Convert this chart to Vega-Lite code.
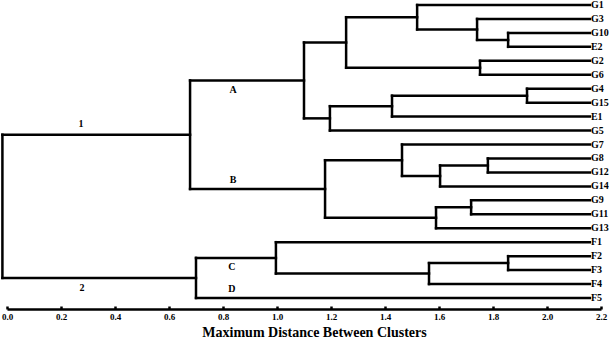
{
  "$schema": "https://vega.github.io/schema/vega-lite/v6.json",
  "width": 594,
  "height": 307,
  "autosize": {"type": "none"},
  "padding": {"left": 7, "right": 8, "top": 2, "bottom": 30},
  "background": "white",
  "config": {"view": {"stroke": null}},
  "datasets": {
    "segments": [
      {"x": 1.856, "x2": 1.856, "y": 2, "y2": 3},
      {"x": 1.741, "x2": 1.741, "y": 1, "y2": 2.5},
      {"x": 1.519, "x2": 1.519, "y": 0, "y2": 1.75},
      {"x": 1.752, "x2": 1.752, "y": 4, "y2": 5},
      {"x": 1.256, "x2": 1.256, "y": 0.875, "y2": 4.5},
      {"x": 1.926, "x2": 1.926, "y": 6, "y2": 7},
      {"x": 1.426, "x2": 1.426, "y": 6.5, "y2": 8},
      {"x": 1.196, "x2": 1.196, "y": 7.25, "y2": 9},
      {"x": 1.1, "x2": 1.1, "y": 2.6875, "y2": 8.125},
      {"x": 1.781, "x2": 1.781, "y": 11, "y2": 12},
      {"x": 1.604, "x2": 1.604, "y": 11.5, "y2": 13},
      {"x": 1.463, "x2": 1.463, "y": 10, "y2": 12.25},
      {"x": 1.719, "x2": 1.719, "y": 14, "y2": 15},
      {"x": 1.589, "x2": 1.589, "y": 14.5, "y2": 16},
      {"x": 1.178, "x2": 1.178, "y": 11.125, "y2": 15.25},
      {"x": 0.678, "x2": 0.678, "y": 5.406, "y2": 13.1875},
      {"x": 1.856, "x2": 1.856, "y": 18, "y2": 19},
      {"x": 1.563, "x2": 1.563, "y": 18.5, "y2": 20},
      {"x": 0.996, "x2": 0.996, "y": 17, "y2": 19.25},
      {"x": 0.7, "x2": 0.7, "y": 18.125, "y2": 21},
      {"x": -0.017, "x2": -0.017, "y": 9.297, "y2": 19.5625},
      {"x": 2.159, "x2": 1.519, "y": 0, "y2": 0},
      {"x": 2.159, "x2": 1.741, "y": 1, "y2": 1},
      {"x": 2.159, "x2": 1.856, "y": 2, "y2": 2},
      {"x": 2.159, "x2": 1.856, "y": 3, "y2": 3},
      {"x": 2.159, "x2": 1.752, "y": 4, "y2": 4},
      {"x": 2.159, "x2": 1.752, "y": 5, "y2": 5},
      {"x": 2.159, "x2": 1.926, "y": 6, "y2": 6},
      {"x": 2.159, "x2": 1.926, "y": 7, "y2": 7},
      {"x": 2.159, "x2": 1.426, "y": 8, "y2": 8},
      {"x": 2.159, "x2": 1.196, "y": 9, "y2": 9},
      {"x": 2.159, "x2": 1.463, "y": 10, "y2": 10},
      {"x": 2.159, "x2": 1.781, "y": 11, "y2": 11},
      {"x": 2.159, "x2": 1.781, "y": 12, "y2": 12},
      {"x": 2.159, "x2": 1.604, "y": 13, "y2": 13},
      {"x": 2.159, "x2": 1.719, "y": 14, "y2": 14},
      {"x": 2.159, "x2": 1.719, "y": 15, "y2": 15},
      {"x": 2.159, "x2": 1.589, "y": 16, "y2": 16},
      {"x": 2.159, "x2": 0.996, "y": 17, "y2": 17},
      {"x": 2.159, "x2": 1.856, "y": 18, "y2": 18},
      {"x": 2.159, "x2": 1.856, "y": 19, "y2": 19},
      {"x": 2.159, "x2": 1.563, "y": 20, "y2": 20},
      {"x": 2.159, "x2": 0.7, "y": 21, "y2": 21},
      {"x": 1.856, "x2": 1.741, "y": 2.5, "y2": 2.5},
      {"x": 1.741, "x2": 1.519, "y": 1.75, "y2": 1.75},
      {"x": 1.519, "x2": 1.256, "y": 0.875, "y2": 0.875},
      {"x": 1.752, "x2": 1.256, "y": 4.5, "y2": 4.5},
      {"x": 1.256, "x2": 1.1, "y": 2.6875, "y2": 2.6875},
      {"x": 1.926, "x2": 1.426, "y": 6.5, "y2": 6.5},
      {"x": 1.426, "x2": 1.196, "y": 7.25, "y2": 7.25},
      {"x": 1.196, "x2": 1.1, "y": 8.125, "y2": 8.125},
      {"x": 1.1, "x2": 0.678, "y": 5.406, "y2": 5.406},
      {"x": 1.781, "x2": 1.604, "y": 11.5, "y2": 11.5},
      {"x": 1.604, "x2": 1.463, "y": 12.25, "y2": 12.25},
      {"x": 1.463, "x2": 1.178, "y": 11.125, "y2": 11.125},
      {"x": 1.719, "x2": 1.589, "y": 14.5, "y2": 14.5},
      {"x": 1.589, "x2": 1.178, "y": 15.25, "y2": 15.25},
      {"x": 1.178, "x2": 0.678, "y": 13.1875, "y2": 13.1875},
      {"x": 0.678, "x2": -0.017, "y": 9.297, "y2": 9.297},
      {"x": 1.856, "x2": 1.563, "y": 18.5, "y2": 18.5},
      {"x": 1.563, "x2": 0.996, "y": 19.25, "y2": 19.25},
      {"x": 0.996, "x2": 0.7, "y": 18.125, "y2": 18.125},
      {"x": 0.7, "x2": -0.017, "y": 19.5625, "y2": 19.5625}
    ],
    "leaves": [
      {"leaf": "G1", "y": 0}, {"leaf": "G3", "y": 1}, {"leaf": "G10", "y": 2},
      {"leaf": "E2", "y": 3}, {"leaf": "G2", "y": 4}, {"leaf": "G6", "y": 5},
      {"leaf": "G4", "y": 6}, {"leaf": "G15", "y": 7}, {"leaf": "E1", "y": 8},
      {"leaf": "G5", "y": 9}, {"leaf": "G7", "y": 10}, {"leaf": "G8", "y": 11},
      {"leaf": "G12", "y": 12}, {"leaf": "G14", "y": 13}, {"leaf": "G9", "y": 14},
      {"leaf": "G11", "y": 15}, {"leaf": "G13", "y": 16}, {"leaf": "F1", "y": 17},
      {"leaf": "F2", "y": 18}, {"leaf": "F3", "y": 19}, {"leaf": "F4", "y": 20},
      {"leaf": "F5", "y": 21}
    ],
    "clusters": [
      {"label": "1", "x": 0.274, "y": 8.5},
      {"label": "2", "x": 0.278, "y": 20.29},
      {"label": "A", "x": 0.837, "y": 6.07},
      {"label": "B", "x": 0.837, "y": 12.57},
      {"label": "C", "x": 0.833, "y": 18.79},
      {"label": "D", "x": 0.833, "y": 20.36}
    ]
  },
  "layer": [
    {
      "data": {"name": "segments"},
      "mark": {"type": "rule", "color": "black", "strokeWidth": 2.5, "strokeCap": "square"},
      "encoding": {
        "x": {
          "field": "x", "type": "quantitative",
          "scale": {"domain": [0, 2.2], "nice": false, "zero": false},
          "axis": {
            "values": [0, 0.2, 0.4, 0.6, 0.8, 1.0, 1.2, 1.4, 1.6, 1.8, 2.0, 2.2],
            "format": ".1f",
            "grid": false,
            "domainColor": "black", "domainWidth": 2.5,
            "tickColor": "black", "tickWidth": 2.5, "tickSize": -3,
            "labelFont": "Liberation Serif", "labelFontWeight": "bold", "labelFontSize": 9,
            "labelColor": "black", "labelPadding": 6, "labelFlush": false,
            "title": "Maximum Distance Between Clusters",
            "titleFont": "Liberation Serif", "titleFontWeight": "bold", "titleFontSize": 14,
            "titleColor": "black", "titleX": 307, "titleY": 27, "titleBaseline": "alphabetic", "titleAlign": "center"
          }
        },
        "x2": {"field": "x2"},
        "y": {
          "field": "y", "type": "quantitative",
          "scale": {"domain": [-0.215, 21.789], "reverse": true, "nice": false, "zero": false},
          "axis": null
        },
        "y2": {"field": "y2"}
      }
    },
    {
      "data": {"name": "leaves"},
      "mark": {"type": "text", "align": "left", "baseline": "middle", "dx": 1, "font": "Liberation Serif", "fontWeight": "bold", "fontSize": 10, "color": "black"},
      "encoding": {
        "x": {"datum": 2.159, "type": "quantitative"},
        "y": {"field": "y", "type": "quantitative"},
        "text": {"field": "leaf"}
      }
    },
    {
      "data": {"name": "clusters"},
      "mark": {"type": "text", "align": "center", "baseline": "middle", "font": "Liberation Serif", "fontWeight": "bold", "fontSize": 10, "color": "black"},
      "encoding": {
        "x": {"field": "x", "type": "quantitative"},
        "y": {"field": "y", "type": "quantitative"},
        "text": {"field": "label"}
      }
    }
  ]
}
